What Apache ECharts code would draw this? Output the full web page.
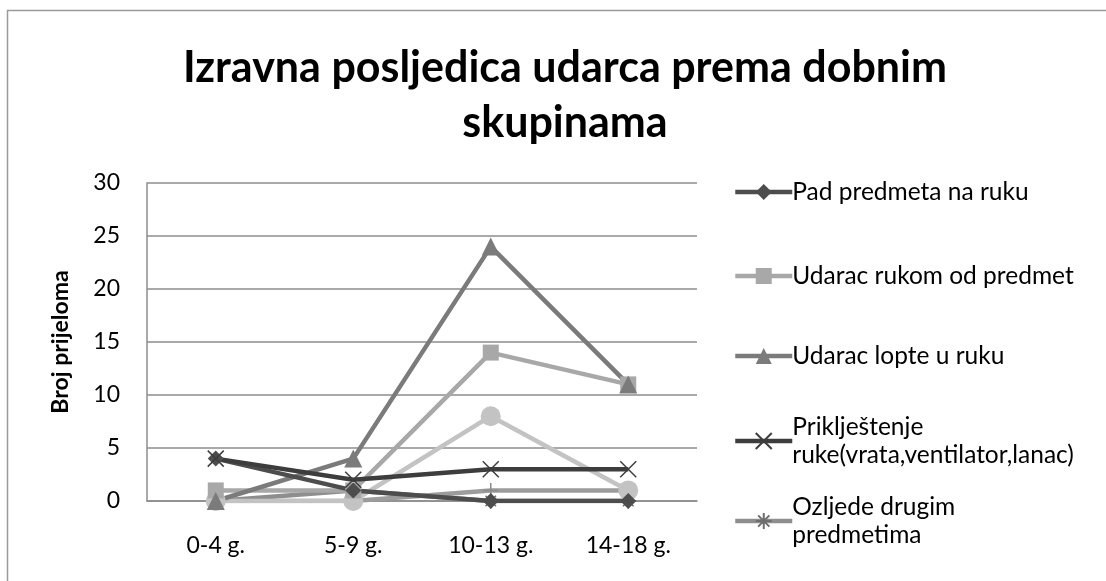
<!DOCTYPE html>
<html>
<head>
<meta charset="utf-8">
<script src="https://cdn.jsdelivr.net/npm/echarts@6/dist/echarts.min.js"></script>
<style>
html,body{margin:0;padding:0;background:#fff;}
#chart{width:1106px;height:581px;}
</style>
</head>
<body>
<div id="chart"></div>
<script>
// podaci
var categories = ['0-4 g.', '5-9 g.', '10-13 g.', '14-18 g.'];
var padPredmeta = [4, 1, 0, 0];
var udaracRukom = [1, 1, 14, 11];
var udaracLopte = [0, 4, 24, 11];
var prikljestenje = [4, 2, 3, 3];
var ozljede = [0, 1, 0, 0];
var seriesSix = [0, 0, 8, 1];
var seriesSeven = [0, 0, 1, 1];
var yTicks = [0, 5, 10, 15, 20, 25, 30];

var legendNames = ['Pad predmeta na ruku', 'Udarac rukom od predmet', 'Udarac lopte u ruku',
  'Priklještenje ruke(vrata,ventilator,lanac)', 'Ozljede drugim predmetima'];
var legendLabels = ['Pad predmeta na ruku', 'Udarac rukom od predmet', 'Udarac lopte u ruku',
  'Priklještenje\nruke(vrata,ventilator,lanac)', 'Ozljede drugim\npredmetima'];
var legendTops = [178, 262, 342, 399, 479];

var chart = echarts.init(document.getElementById('chart'));

var FONT = 'Lato';
var xPath = 'path://M0,0L10,10M10,0L0,10';
var plusPath = 'path://M5,0L5,10M0,5L10,5';
var starPath = 'path://M5,0L5,10M0,5L10,5M1.5,1.5L8.5,8.5M8.5,1.5L1.5,8.5';

function mk(name, data, color, symbol, size, stroke) {
  var s = {
    name: name,
    type: 'line',
    data: data,
    symbol: symbol,
    symbolSize: size,
    lineStyle: {color: color, width: 4.5},
    itemStyle: {color: color},
    animation: false
  };
  if (stroke) {
    s.itemStyle = {color: stroke, borderColor: stroke, borderWidth: 1.5};
  }
  return s;
}

var legends = [];
for (var i = 0; i < legendNames.length; i++) {
  (function (idx) {
    var twoLines = legendLabels[idx].indexOf('\n') >= 0;
    legends.push({
      data: [legendNames[idx]],
      left: 733,
      top: legendTops[idx],
      padding: 0,
      orient: 'vertical',
      itemWidth: 57,
      itemHeight: 20,
      itemGap: 0,
      lineStyle: {width: 4.5},
      textStyle: {fontFamily: FONT, fontSize: 24.5, color: '#000', lineHeight: 28,
        padding: [twoLines ? 28 : 0, 0, 0, -5]},
      formatter: function () { return legendLabels[idx]; }
    });
  })(i);
}

var option = {
  backgroundColor: '#fff',
  title: {
    text: 'Izravna posljedica udarca prema dobnim\nskupinama',
    left: 560,
    top: 36,
    textAlign: 'center',
    textStyle: {fontFamily: FONT, fontWeight: 'bold', fontSize: 43, color: '#000', lineHeight: 55}
  },
  legend: legends,
  grid: {left: 147, right: 409, top: 183, bottom: 80},
  xAxis: {
    type: 'category',
    data: categories,
    boundaryGap: true,
    axisLine: {lineStyle: {color: '#8c8c8c', width: 1.5}},
    axisTick: {show: false},
    axisLabel: {fontFamily: FONT, fontSize: 23, color: '#000', margin: 33}
  },
  yAxis: {
    type: 'value',
    min: yTicks[0],
    max: yTicks[yTicks.length - 1],
    interval: 5,
    name: 'Broj prijeloma',
    nameLocation: 'middle',
    nameGap: 75,
    nameTextStyle: {fontFamily: FONT, fontWeight: 'bold', fontSize: 23, color: '#000'},
    axisLine: {show: true, lineStyle: {color: '#8c8c8c', width: 1.5}},
    axisTick: {show: false},
    splitLine: {lineStyle: {color: '#8c8c8c', width: 1.5}},
    axisLabel: {fontFamily: FONT, fontSize: 23, color: '#000', margin: 27}
  },
  graphic: [{
    type: 'rect',
    shape: {x: 7.5, y: 10.5, width: 1300, height: 800},
    style: {fill: 'none', stroke: '#9a9a9a', lineWidth: 1.5},
    silent: true
  }],
  series: [
    mk('Ozljede drugim predmetima', ozljede, '#8e8e8e', starPath, 15, '#6e6e6e'),
    mk('Serija 7', seriesSeven, '#9c9c9c', plusPath, 15, '#8a8a8a'),
    mk('Serija 6', seriesSix, '#c3c3c3', 'circle', 20),
    mk('Udarac rukom od predmet', udaracRukom, '#a8a8a8', 'rect', 16),
    mk('Udarac lopte u ruku', udaracLopte, '#7b7b7b', 'triangle', 18),
    mk('Pad predmeta na ruku', padPredmeta, '#4d4d4d', 'diamond', 16),
    mk('Priklještenje ruke(vrata,ventilator,lanac)', prikljestenje, '#3d3d3d', xPath, 16, '#3d3d3d')
  ]
};
chart.setOption(option);
</script>
</body>
</html>
